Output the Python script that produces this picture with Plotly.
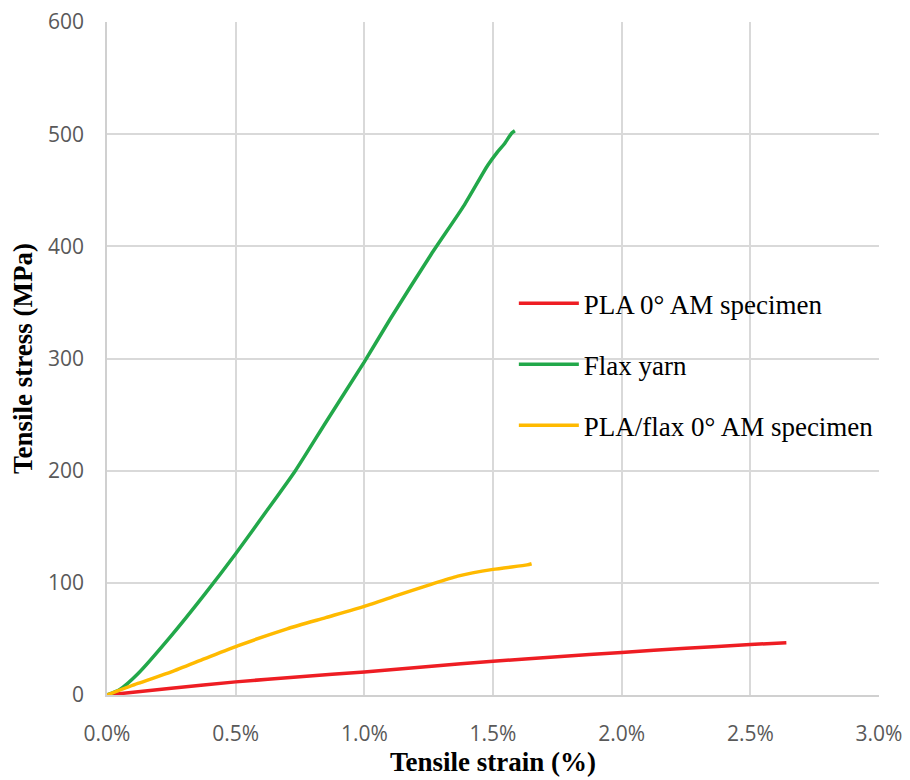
import plotly.graph_objects as go

# Tensile strain (%) and stress (MPa)
pla_strain = [0, 0.25, 0.5, 0.75, 1.0, 1.25, 1.5, 1.75, 2.0, 2.25, 2.5, 2.64]
pla_stress = [0, 6.0, 11.7, 16.3, 20.6, 25.5, 30.0, 34.2, 38.0, 41.7, 45.0, 46.6]

flax_strain = [0, 0.05, 0.12, 0.25, 0.38, 0.5, 0.62, 0.732, 0.85, 1.0,
               1.1, 1.26, 1.389, 1.479, 1.517, 1.543, 1.573, 1.585]
flax_stress = [0, 5, 19, 53, 90, 126, 164, 200, 243, 297,
               335, 393, 437, 472, 484, 491, 501, 503]

mix_strain = [0, 0.12, 0.25, 0.38, 0.51, 0.7, 0.85, 1.0, 1.13, 1.25, 1.363, 1.5, 1.633, 1.65]
mix_stress = [0, 10.3, 20.6, 32.4, 44, 59, 69, 79, 89, 98, 106, 112, 116, 117]

names = ["PLA 0° AM specimen", "Flax yarn", "PLA/flax 0° AM specimen"]
colors = ["#EE1D23", "#22A84A", "#FFBA00"]

x_ticks = [0, 0.5, 1.0, 1.5, 2.0, 2.5, 3.0]
y_ticks = [0, 100, 200, 300, 400, 500, 600]

fig = go.Figure()
for i, (xs, ys) in enumerate([(pla_strain, pla_stress), (flax_strain, flax_stress), (mix_strain, mix_stress)]):
    fig.add_trace(go.Scatter(x=xs, y=ys, mode="lines", name=names[i],
                             legendgroup=f"g{i}",
                             line=dict(color=colors[i], width=3.5, shape="spline", smoothing=0.6)))

tick_font = dict(family="Open Sans", size=21, color="#595959")
title_font = dict(family="Liberation Serif", size=27, color="#000000")

fig.update_layout(
    width=902, height=772,
    margin=dict(l=99, r=31, t=14, b=85, autoexpand=False),
    paper_bgcolor="white", plot_bgcolor="white",
    showlegend=True,
    legend=dict(x=0.527, y=0.618, xanchor="left", yanchor="top",
                font=dict(family="Liberation Serif", size=27, color="#000000"),
                tracegroupgap=23, itemwidth=60, bgcolor="rgba(0,0,0,0)"),
    xaxis=dict(range=[0, 3.0], tickvals=x_ticks, ticktext=[f"{v:.1f}%" for v in x_ticks],
               showgrid=True, gridcolor="#d9d9d9", gridwidth=1.5,
               showline=True, linecolor="#d0d0d0", linewidth=1.5, automargin=False,
               zeroline=False, ticks="", tickfont=tick_font, ticklabelstandoff=19,
               ticklabeloverflow="allow",
               title=dict(text="<b>Tensile strain (%)</b>", font=title_font, standoff=4)),
    yaxis=dict(range=[0, 600], tickvals=y_ticks,
               showgrid=True, gridcolor="#d9d9d9", gridwidth=1.5,
               showline=True, linecolor="#d0d0d0", linewidth=1.5, automargin=False,
               zeroline=False, ticks="", tickfont=tick_font, ticklabelstandoff=17,
               ticklabeloverflow="allow",
               title=dict(text="<b>Tensile stress (MPa)</b>", font=title_font, standoff=10)),
)

fig.write_html("out.html")
